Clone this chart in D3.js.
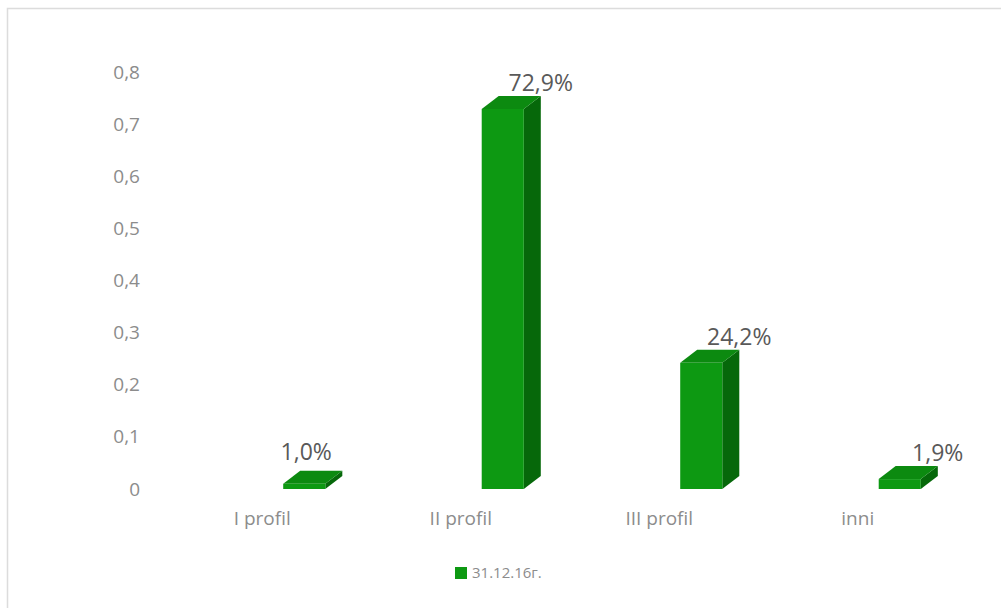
<!DOCTYPE html>
<html><head><meta charset="utf-8">
<script src="https://cdn.jsdelivr.net/npm/d3@7"></script>
<style>
html,body{margin:0;padding:0;background:#fff;}
svg{display:block;}
</style></head>
<body>
<svg id="chart" width="1001" height="608"></svg>
<script>
const categories = ["I profil", "II profil", "III profil", "inni"];
const values = [0.010, 0.729, 0.242, 0.019];
const valueLabels = ["1,0%", "72,9%", "24,2%", "1,9%"];
const yTicks = [0, 0.1, 0.2, 0.3, 0.4, 0.5, 0.6, 0.7, 0.8];
const seriesName = "31.12.16г.";

const svg = d3.select("#chart");
const font = "'Open Sans', sans-serif";

// chart border
svg.append("rect").attr("x", 7.5).attr("y", 8.5).attr("width", 1010).attr("height", 620)
  .attr("fill", "#fff").attr("stroke", "#dcdcdc").attr("stroke-width", 1.5);

const y = d3.scaleLinear().domain([0, 0.8]).range([489, 72]);
const x = d3.scaleBand().domain(categories).range([163, 957]);

// y axis
const yAxis = d3.axisLeft(y).tickValues(yTicks)
  .tickFormat(d => d === 0 ? "0" : d3.format(".1f")(d).replace(".", ","))
  .tickSize(0).tickPadding(0);
const ga = svg.append("g").attr("transform", "translate(140,0)").call(yAxis);
ga.select(".domain").remove();
ga.selectAll("text").attr("font-family", font).attr("font-size", 19).attr("fill", "#8c8c8c");

// x axis labels
const xAxis = d3.axisBottom(x).tickSize(0).tickPadding(0);
const gx = svg.append("g").attr("transform", "translate(0,511)").call(xAxis);
gx.select(".domain").remove();
gx.selectAll("text").attr("font-family", font).attr("font-size", 19).attr("fill", "#8c8c8c");

// 3D bars
const shift = 42, dx = 17, dy = 13;
const bw = x.bandwidth() * 0.212;
const data = categories.map((c, i) => ({c, v: values[i], label: valueLabels[i], i}));
const bars = svg.append("g").selectAll("g").data(data).join("g");

bars.each(function(d) {
  const g = d3.select(this);
  const cx = x(d.c) + x.bandwidth() / 2 + shift;
  const x0 = cx - bw / 2, x1 = cx + bw / 2;
  const yb = y(0), yt = y(d.v);
  // side face
  g.append("path").attr("d", `M${x1},${yb}L${x1 + dx},${yb - dy}L${x1 + dx},${yt - dy}L${x1},${yt}Z`)
    .attr("fill", "#06680a");
  // top face
  g.append("path").attr("d", `M${x0},${yt}L${x0 + dx},${yt - dy}L${x1 + dx},${yt - dy}L${x1},${yt}Z`)
    .attr("fill", "#0c8a10");
  // front face
  g.append("rect").attr("x", x0).attr("y", yt).attr("width", bw).attr("height", yb - yt)
    .attr("fill", "#0d9912");
  // value label
  const first = d.i === 0;
  const lx = first ? cx + 2 : cx + 38;
  const ly = first ? yt - dy - 11 : yt - dy - 5;
  g.append("text").attr("x", lx).attr("y", ly).attr("text-anchor", "middle")
    .attr("font-family", font).attr("font-size", 23).attr("fill", "#595959").text(d.label);
});

// legend
const lg = svg.append("g").attr("transform", "translate(455,567)");
lg.append("rect").attr("width", 12).attr("height", 12).attr("fill", "#0d9912");
lg.append("text").attr("x", 17).attr("y", 11).attr("font-family", font).attr("font-size", 15)
  .attr("fill", "#8c8c8c").text(seriesName);
</script>
</body></html>
